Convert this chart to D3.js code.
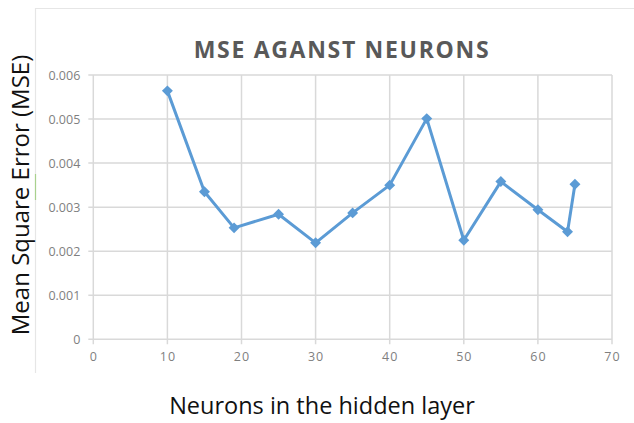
<!DOCTYPE html>
<html>
<head>
<meta charset="utf-8">
<script src="https://cdn.jsdelivr.net/npm/d3@7"></script>
<style>
  html, body { margin: 0; padding: 0; background: #fff; }
  svg { display: block; }
</style>
</head>
<body>
<svg id="chart" width="634" height="423"></svg>
<script>
// Hidden-layer size vs. mean square error
const neurons = [10, 15, 19, 25, 30, 35, 40, 45, 50, 55, 60, 64, 65];
const mse = [0.00564, 0.00335, 0.00253, 0.00284, 0.00219, 0.00287, 0.00350,
             0.00501, 0.00225, 0.00358, 0.00294, 0.00244, 0.00352];
const xTicks = [0, 10, 20, 30, 40, 50, 60, 70];
const yTicks = [0, 0.001, 0.002, 0.003, 0.004, 0.005, 0.006];
const titleText = "MSE AGANST NEURONS";
const xTitle = "Neurons in the hidden layer";
const yTitle = "Mean Square Error (MSE)";

const svg = d3.select("#chart");
const gridColor = "#d9d9d9";
const tickColor = "#7f7f7f";
const lineColor = "#5b9bd5";

const x = d3.scaleLinear().domain([0, 70]).range([93.3, 612]);
const y = d3.scaleLinear().domain([0, 0.006]).range([339.3, 75]);

// outer chart frame (left and top edges)
svg.append("path")
  .attr("d", "M35.5,373 V8.5 H634")
  .attr("fill", "none")
  .attr("stroke", "#e6e6e6")
  .attr("stroke-width", 1.2);
svg.append("line")
  .attr("x1", 35.5).attr("x2", 35.5).attr("y1", 174).attr("y2", 200)
  .attr("stroke", "#a9d18e").attr("stroke-width", 1.2);

// gridlines
const grid = svg.append("g");
grid.selectAll(".hg").data(yTicks).join("line")
  .attr("x1", x(0) - 5).attr("x2", x(70))
  .attr("y1", d => y(d)).attr("y2", d => y(d))
  .attr("stroke", gridColor).attr("stroke-width", 1.5);
grid.selectAll(".vg").data(xTicks).join("line")
  .attr("x1", d => x(d)).attr("x2", d => x(d))
  .attr("y1", y(0.006)).attr("y2", y(0) + 5)
  .attr("stroke", gridColor).attr("stroke-width", 1.5);

// axes (labels only; the lines come from the grid)
const xAxis = svg.append("g")
  .attr("transform", `translate(0,${y(0)})`)
  .call(d3.axisBottom(x).tickValues(xTicks).tickSize(0).tickPadding(13).tickFormat(d3.format("d")));
const yAxis = svg.append("g")
  .attr("transform", `translate(${x(0)},0)`)
  .call(d3.axisLeft(y).tickValues(yTicks).tickSize(0).tickPadding(13)
    .tickFormat(d => d === 0 ? "0" : d3.format(".3f")(d)));
[xAxis, yAxis].forEach(g => {
  g.select(".domain").remove();
  g.selectAll("text")
    .attr("fill", tickColor)
    .style("font-family", "'Open Sans', sans-serif")
    .style("font-size", "12.5px");
});
xAxis.selectAll("text").style("letter-spacing", "1px");

// data line with diamond markers
const pts = neurons.map((n, i) => [n, mse[i]]);
svg.append("path")
  .datum(pts)
  .attr("fill", "none")
  .attr("stroke", lineColor)
  .attr("stroke-width", 3)
  .attr("stroke-linejoin", "round")
  .attr("d", d3.line().x(d => x(d[0])).y(d => y(d[1])));
const diamond = d3.symbol().type(d3.symbolSquare).size(60);
svg.selectAll(".mk").data(pts).join("path")
  .attr("d", diamond)
  .attr("transform", d => `translate(${x(d[0])},${y(d[1])}) rotate(45)`)
  .attr("fill", lineColor);

// titles
svg.append("text")
  .attr("x", 342).attr("y", 58)
  .attr("text-anchor", "middle")
  .attr("fill", "#595959")
  .style("font-family", "'Open Sans', sans-serif")
  .style("font-weight", "bold")
  .style("font-size", "23px")
  .style("letter-spacing", "1.7px")
  .text(titleText);

svg.append("text")
  .attr("x", 322).attr("y", 414)
  .attr("text-anchor", "middle")
  .attr("fill", "#111")
  .style("font-family", "'Open Sans', sans-serif")
  .style("font-size", "23.5px")
  .text(xTitle);

svg.append("text")
  .attr("transform", "translate(29,195) rotate(-90)")
  .attr("text-anchor", "middle")
  .attr("fill", "#111")
  .style("font-family", "'Open Sans', sans-serif")
  .style("font-size", "24px")
  .text(yTitle);
</script>
</body>
</html>
